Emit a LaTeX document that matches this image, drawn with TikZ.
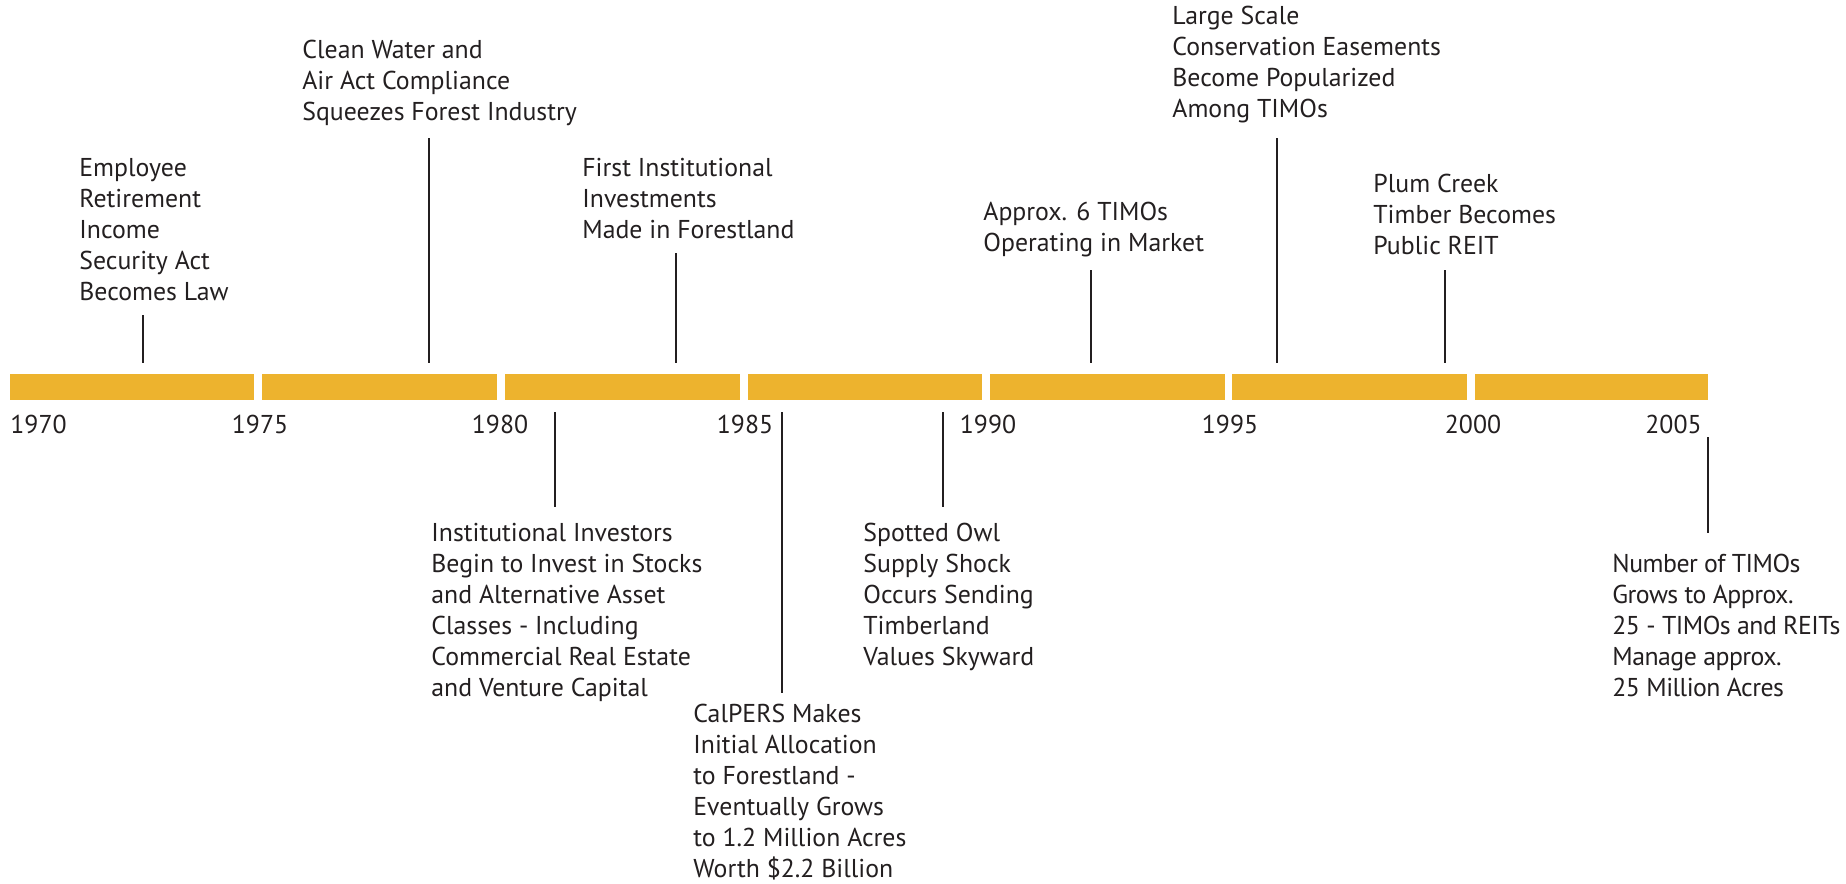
\documentclass[tikz,border=0pt]{standalone}
\usepackage{fontspec}
\setmainfont{PT Sans}
\definecolor{gold}{RGB}{237,179,46}
\definecolor{ink}{RGB}{35,31,32}
\begin{document}
\begin{tikzpicture}[x=0.5pt,y=-0.5pt,
  bar/.style={fill=gold, draw=none},
  tick/.style={draw=ink, line width=1.1pt},
  txt/.style={inner sep=0pt, text=ink, font=\fontsize{12.9pt}{15.5pt}\selectfont},
  lbl/.style={txt, anchor=north west, align=left},
  yr/.style={txt, anchor=north}]
\useasboundingbox (0,0) rectangle (1846,883);
% bars
\path[bar] (10,374) rectangle (254,400);
\path[bar] (262,374) rectangle (497,400);
\path[bar] (505,374) rectangle (740,400);
\path[bar] (748,374) rectangle (982,400);
\path[bar] (990,374) rectangle (1225,400);
\path[bar] (1232,374) rectangle (1467,400);
\path[bar] (1475,374) rectangle (1708,400);
% years
\node[yr, anchor=north west] (y1970) at (10,415) {1970};
\node[yr] (y1975) at (260,415) {1975};
\node[yr] (y1980) at (500,415) {1980};
\node[yr] (y1985) at (745,415) {1985};
\node[yr] (y1990) at (988,415) {1990};
\node[yr] (y1995) at (1230,415) {1995};
\node[yr] (y2000) at (1473,415) {2000};
\node[yr, anchor=north east] (y2005) at (1702,415) {2005};
% upper events
\node[lbl] (e1) at (79,158) {Employee\\Retirement\\Income\\Security Act\\Becomes Law};
\coordinate (e1a) at (143,315); \coordinate (e1b) at (143,363);
\draw[tick] (e1a) -- (e1b);
\node[lbl] (e2) at (302,40) {Clean Water and\\Air Act Compliance\\Squeezes Forest Industry};
\coordinate (e2a) at (429,138); \coordinate (e2b) at (429,363);
\draw[tick] (e2a) -- (e2b);
\node[lbl] (e3) at (582,158) {First Institutional\\Investments\\Made in Forestland};
\coordinate (e3a) at (676,253); \coordinate (e3b) at (676,363);
\draw[tick] (e3a) -- (e3b);
\node[lbl] (e4) at (983,202) {Approx. 6 TIMOs\\Operating in Market};
\coordinate (e4a) at (1091,270); \coordinate (e4b) at (1091,363);
\draw[tick] (e4a) -- (e4b);
\node[lbl] (e5) at (1172,6) {Large Scale\\Conservation Easements\\Become Popularized\\Among TIMOs};
\coordinate (e5a) at (1277,138); \coordinate (e5b) at (1277,363);
\draw[tick] (e5a) -- (e5b);
\node[lbl] (e6) at (1373,174) {Plum Creek\\Timber Becomes\\Public REIT};
\coordinate (e6a) at (1445,270); \coordinate (e6b) at (1445,363);
\draw[tick] (e6a) -- (e6b);
% lower events
\coordinate (f1a) at (555,412); \coordinate (f1b) at (555,507);
\draw[tick] (f1a) -- (f1b);
\node[lbl] (f1) at (431,523) {Institutional Investors\\Begin to Invest in Stocks\\and Alternative Asset\\Classes - Including\\Commercial Real Estate\\and Venture Capital};
\coordinate (f2a) at (782,412); \coordinate (f2b) at (782,693);
\draw[tick] (f2a) -- (f2b);
\node[lbl] (f2) at (693,704) {CalPERS Makes\\Initial Allocation\\to Forestland -\\Eventually Grows\\to 1.2 Million Acres\\Worth \$2.2 Billion};
\coordinate (f3a) at (943,412); \coordinate (f3b) at (943,507);
\draw[tick] (f3a) -- (f3b);
\node[lbl] (f3) at (863,523) {Spotted Owl\\Supply Shock\\Occurs Sending\\Timberland\\Values Skyward};
\coordinate (f4a) at (1708,437); \coordinate (f4b) at (1708,533);
\draw[tick] (f4a) -- (f4b);
\node[lbl, font=\fontsize{12.9pt}{15.5pt}\selectfont\addfontfeature{LetterSpace=-2}] (f4) at (1612,554) {Number of TIMOs\\Grows to Approx.\\25 - TIMOs and REITs\\Manage approx.\\25 Million Acres};
\end{tikzpicture}
\end{document}
